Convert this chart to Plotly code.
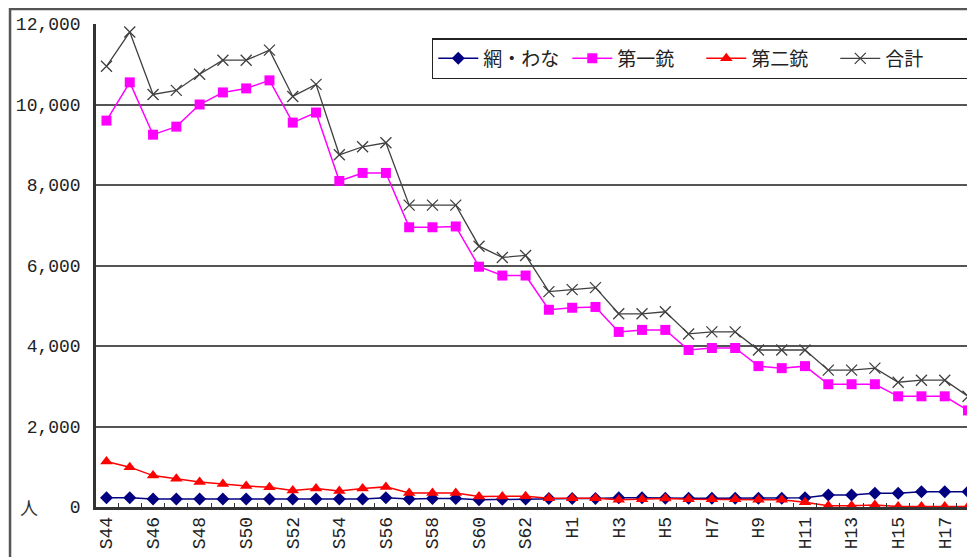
import plotly.graph_objects as go

years = ["S%d" % y for y in range(44, 64)] + ["H%d" % y for y in range(1, 19)]
tick_text = [y if i % 2 == 0 else "" for i, y in enumerate(years)]

ami_wana = [230, 230, 200, 200, 200, 200, 200, 200, 200, 200, 200, 200, 230, 200, 210, 210, 180, 190, 200, 210,
            210, 210, 230, 230, 220, 220, 220, 220, 220, 220, 230, 300, 300, 340, 340, 380, 380, 380]
dai1 = [9600, 10550, 9250, 9450, 10000, 10300, 10400, 10600, 9550, 9800, 8100, 8300, 8300, 6950, 6950, 6970, 5970, 5750, 5750, 4900,
        4950, 4970, 4350, 4400, 4400, 3900, 3950, 3950, 3500, 3450, 3500, 3050, 3050, 3050, 2750, 2750, 2750, 2400]
dai2 = [1130, 990, 780, 700, 620, 570, 520, 490, 410, 460, 400, 460, 500, 350, 350, 350, 260, 260, 270, 220,
        220, 220, 180, 190, 210, 190, 190, 190, 180, 180, 120, 30, 30, 50, 10, 10, 10, 10]
total = [10950, 11800, 10250, 10350, 10750, 11100, 11100, 11350, 10200, 10500, 8750, 8950, 9050, 7500, 7500, 7500, 6480, 6200, 6250, 5350,
         5400, 5450, 4800, 4800, 4850, 4300, 4350, 4350, 3900, 3900, 3900, 3400, 3400, 3450, 3100, 3150, 3150, 2750]

y_ticks = [0, 2000, 4000, 6000, 8000, 10000, 12000]
y_text = ["0", "2,000", "4,000", "6,000", "8,000", "10,000", "12,000"]

fig = go.Figure()
fig.add_trace(go.Scatter(x=years, y=ami_wana, name="網・わな", mode="lines+markers",
                         line=dict(color="#000080", width=1.5),
                         marker=dict(symbol="diamond", size=10, color="#000080"), cliponaxis=False))
fig.add_trace(go.Scatter(x=years, y=dai1, name="第一銃", mode="lines+markers",
                         line=dict(color="#FF00FF", width=1.5),
                         marker=dict(symbol="square", size=10, color="#FF00FF"), cliponaxis=False))
fig.add_trace(go.Scatter(x=years, y=dai2, name="第二銃", mode="lines+markers",
                         line=dict(color="#FF0000", width=1.5),
                         marker=dict(symbol="triangle-up", size=11, color="#FF0000"), cliponaxis=False))
fig.add_trace(go.Scatter(x=years, y=total, name="合計", mode="lines+markers",
                         line=dict(color="#404040", width=1.3),
                         marker=dict(symbol="x-thin", size=11, color="#404040",
                                     line=dict(color="#404040", width=1.3)), cliponaxis=False))

fig.update_layout(
    width=967, height=549,
    margin=dict(l=88, r=0, t=16, b=50),
    paper_bgcolor="white", plot_bgcolor="white",
    showlegend=True,
    legend=dict(orientation="h", x=0.382, y=0.971, xanchor="left", yanchor="top",
                bordercolor="#222", borderwidth=1.5, bgcolor="white",
                font=dict(family="Noto Sans CJK JP", size=19, color="#222"),
                itemwidth=40, tracegroupgap=0, entrywidth=79, entrywidthmode="pixels"),
    xaxis=dict(type="category", categoryorder="array", categoryarray=years,
               range=[-0.45, 37.3],
               tickmode="array", tickvals=years, ticktext=tick_text,
               tickangle=-90, tickson="boundaries", ticks="inside", ticklen=4,
               tickcolor="#333", tickwidth=1,
               tickfont=dict(family="Liberation Mono", size=18, color="#222"),
               showline=True, linecolor="#333", linewidth=2.5, showgrid=False, zeroline=False),
    yaxis=dict(range=[0, 12000], tickmode="array", tickvals=y_ticks, ticktext=y_text,
               tickfont=dict(family="Liberation Mono", size=18, color="#222"),
               showline=True, linecolor="#333", linewidth=2.5,
               showgrid=True, gridcolor="#555", gridwidth=1.6, zeroline=False,
               ticks="", ticklabelstandoff=9),
    shapes=[dict(type="rect", xref="paper", yref="paper", x0=-0.0978, x1=1.05, y0=-0.3, y1=1.031,
                 line=dict(color="#555", width=2.5), fillcolor="rgba(0,0,0,0)", layer="below")],
    annotations=[dict(text="人", xref="paper", yref="paper", x=-0.076, y=0, showarrow=False,
                      font=dict(family="Noto Sans CJK JP", size=18, color="#333"),
                      xanchor="center", yanchor="middle")],
)

fig.write_html("out.html")
